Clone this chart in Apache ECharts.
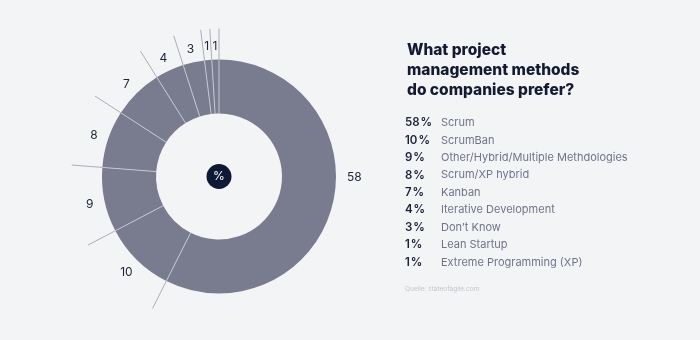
<!DOCTYPE html>
<html>
<head>
<meta charset="utf-8">
<script src="https://cdn.jsdelivr.net/npm/echarts@6/dist/echarts.min.js"></script>
<style>
html,body{margin:0;padding:0;background:#f3f4f6;}
#c{width:700px;height:340px;}
</style>
</head>
<body>
<div id="c"></div>
<script>
// ---- data ----
const categories = ['Scrum','ScrumBan','Other/Hybrid/Multiple Methdologies','Scrum/XP hybrid','Kanban','Iterative Development',"Don’t Know",'Lean Startup','Extreme Programming (XP)'];
const values = [58,10,9,8,7,4,3,1,1];
const titleText = 'What project\nmanagement methods\ndo companies prefer?';
const sourceText = 'Quelle: stateofagile.com';

// ---- layout constants ----
const CENTER = [219, 176.5];
const R_IN = 63, R_OUT = 117, R_LINE = 148, R_LABEL_OUT = 141, R_DOT = 12.5;
const FONT = 'Inter, "Noto Sans", sans-serif';

const total = values.reduce((a,b)=>a+b,0);
const bounds = [];
let acc = 0;
values.forEach(v => { bounds.push(acc); acc += v; });

const pieData = categories.map((c,i)=>({name:c, value:values[i]}));

const lineSeries = [];
bounds.forEach(a => {
  lineSeries.push({
    type:'line', coordinateSystem:'polar', silent:true, symbol:'none', z:6, animation:false,
    lineStyle:{color:'#c4c6cf', width:1},
    data:[[R_IN, a],[R_OUT, a]]
  });
  lineSeries.push({
    type:'line', coordinateSystem:'polar', silent:true, symbol:'none', z:6, animation:false,
    lineStyle:{color:'#aaadb9', width:1},
    data:[[R_OUT, a],[R_LINE, a]]
  });
});

const chart = echarts.init(document.getElementById('c'), null, {renderer:'canvas'});
chart.setOption({
  backgroundColor:'#f3f4f6',
  animation:false,
  title:[
    {text:titleText, left:407, top:40, padding:0,
     textStyle:{fontFamily:FONT, fontSize:15.5, fontWeight:800, lineHeight:20, color:'#131a31'}},
    {text:sourceText, left:405, top:286, padding:0,
     textStyle:{fontFamily:FONT, fontSize:6.5, fontWeight:400, color:'#c3c6ce'}}
  ],
  legend:{
    orient:'vertical', left:399, top:114, padding:0, icon:'none', itemWidth:1, itemHeight:10, itemGap:0,
    selectedMode:false,
    data:categories,
    formatter: name => {
      const i = categories.indexOf(name);
      return '{p|' + values[i] + '\u200a%}{n|' + name + '}';
    },
    textStyle:{
      fontFamily:FONT, fontSize:11, lineHeight:17.46,
      rich:{
        p:{width:36, fontFamily:FONT, fontSize:11.5, fontWeight:600, color:'#1a2238', lineHeight:17.46},
        n:{fontFamily:FONT, fontSize:11, color:'#70748a', lineHeight:17.46}
      }
    }
  },
  polar:{center:CENTER, radius:R_LINE},
  angleAxis:{type:'value', min:0, max:total, startAngle:90, clockwise:true, show:false},
  radiusAxis:{type:'value', min:0, max:R_LINE, show:false},
  series:[
    {
      type:'pie', center:CENTER, radius:[R_IN, R_OUT], startAngle:90, clockwise:true,
      silent:true, z:2,
      itemStyle:{color:'#797c8f'},
      label:{show:false}, labelLine:{show:false},
      data:pieData
    },
    {
      type:'pie', center:CENTER, radius:[R_OUT, R_LABEL_OUT], startAngle:90, clockwise:true,
      silent:true, z:3,
      itemStyle:{color:'rgba(0,0,0,0)'},
      label:{show:true, position:'inside', formatter:'{c}', fontFamily:FONT, fontSize:12, color:'#1c2438'},
      labelLine:{show:false},
      labelLayout: p => (p.dataIndex === 0 ? {dx:7, dy:-30} : {dy:1.5}),
      data:pieData
    },
    {
      type:'pie', center:CENTER, radius:[0, R_DOT], silent:true, z:7,
      itemStyle:{color:'#0e1a35'},
      label:{show:true, position:'center', formatter:'%', fontFamily:FONT, fontSize:12, color:'#ffffff'},
      labelLine:{show:false},
      data:[{name:'%', value:1}]
    },
    ...lineSeries
  ]
});
</script>
</body>
</html>
